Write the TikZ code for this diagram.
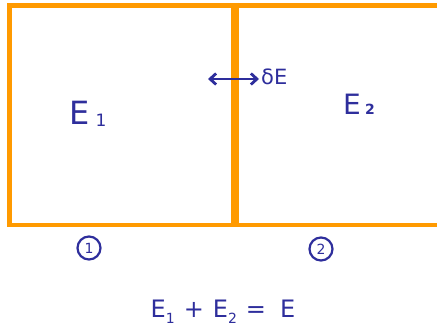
\documentclass[tikz,border=0pt]{standalone}
\usepackage{fontspec}
\setmainfont{DejaVu Sans}
\usetikzlibrary{arrows.meta}
\definecolor{boxorange}{HTML}{FF9A00}
\definecolor{inkblue}{HTML}{2E2E9C}
\newcommand{\lowdig}[1]{\raisebox{-0.25em}{\fontsize{14}{14}\selectfont #1}}
\begin{document}
\begin{tikzpicture}[x=1pt,y=-1pt,
  wall/.style={draw=boxorange,line width=4.8pt},
  midwall/.style={draw=boxorange,line width=8pt},
  ink/.style={text=inkblue,inner sep=0pt},
  circ/.style={draw=inkblue,line width=2.2pt,circle,minimum size=23pt,inner sep=0pt,text=inkblue,font=\fontsize{14}{14}\selectfont}]
\useasboundingbox (0,0) rectangle (437,328);
\fill[white] (0,0) rectangle (437,328);
% walls
\coordinate (tl) at (9.7,5.5);
\coordinate (tr) at (437,5.5);
\coordinate (bl) at (9.7,225);
\coordinate (br) at (437,225);
\coordinate (mt) at (235,3);
\coordinate (mb) at (235,227.5);
\draw[wall] (tr) -- ([xshift=-2.4pt]tl) ;
\draw[wall] ([yshift=-2.4pt]tl) -- ([yshift=2.4pt]bl);
\draw[wall] ([xshift=-2.4pt]bl) -- (br);
\draw[midwall] (mt) -- (mb);
% labels
\node[ink,font=\fontsize{32}{32}\selectfont] (e1) at (80,113) {E};
\node[ink,font=\fontsize{17}{17}\selectfont,anchor=base west] (e1s) at ([xshift=5pt,yshift=-2pt]e1.base east) {1};
\node[ink,font=\fontsize{28}{28}\selectfont] (e2) at (352,104) {E};
\node[ink,font=\fontsize{14}{14}\selectfont\bfseries,anchor=base west] (e2s) at ([xshift=4pt]e2.base east) {2};
\coordinate (al) at (208,79);
\coordinate (ar) at (259,79);
\draw[inkblue,line width=2.8pt,{Straight Barb[length=6pt,width=11pt]}-{Straight Barb[length=6pt,width=11pt]}] (al) -- (ar);
\node[ink,font=\fontsize{21}{21}\selectfont,anchor=west] (de) at (261,77) {δE};
\node[circ] (c1) at (89,248) {1};
\node[circ] (c2) at (321,249) {2};
\node[ink,font=\fontsize{24}{24}\selectfont] (eq) at (223,312) {E\lowdig{1}\hspace{9pt}+\hspace{9pt}E\lowdig{2}\hspace{9pt}=\hspace{14pt}E};
\end{tikzpicture}
\end{document}
